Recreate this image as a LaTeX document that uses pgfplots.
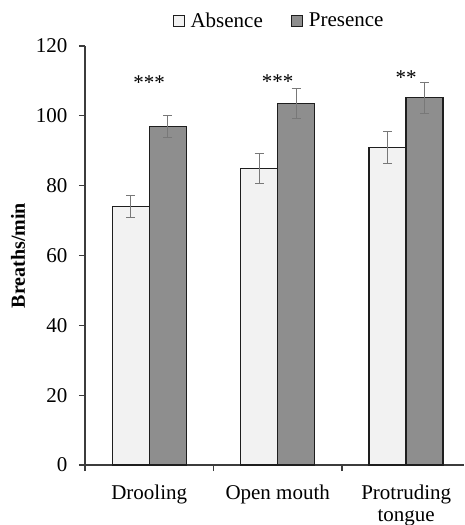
\documentclass[border=0pt]{standalone}
\usepackage{fontspec}
\setmainfont{Liberation Serif}
\usepackage{pgfplots}
\pgfplotsset{compat=1.18}
\definecolor{absfill}{RGB}{242,242,242}
\definecolor{prefill}{RGB}{142,142,142}
\definecolor{edgec}{RGB}{30,30,30}
\definecolor{axc}{RGB}{60,60,60}
\definecolor{errc}{RGB}{120,120,120}
\begin{document}
\begin{tikzpicture}
\useasboundingbox (-85pt,-60pt) rectangle (380pt,465pt);
\begin{axis}[
  scale only axis,
  width=379pt, height=419pt,
  xmin=-0.5, xmax=2.45,
  ymin=0, ymax=120,
  ytick={0,20,...,120},
  xtick={0,1,2},
  xticklabels={Drooling,Open mouth,{Protruding\\tongue}},
  minor xtick={-0.5,0.5,1.5},
  every major x tick/.style={draw=none},
  every minor x tick/.style={draw=axc, line width=1.3pt},
  minor tick length=6pt,
  major tick length=6pt,
  tick align=outside,
  ytick style={draw=axc, line width=1.3pt},
  axis lines*=left,
  axis line style={draw=axc, line width=1.5pt},
  /pgf/number format/assume math mode=true,
  tick label style={font=\fontsize{21}{22}\selectfont, text=black},
  yticklabel style={xshift=-8pt},
  xticklabel style={align=center, yshift=-10pt},
  ylabel={\textbf{Breaths/min}},
  ylabel style={font=\fontsize{20}{22}\selectfont, at={(axis description cs:-0.177,0.5)}, anchor=center, rotate=0},
  ybar, bar width=37pt,
  area legend,
  legend columns=2,
  legend style={at={(0.512,1.06)}, anchor=center, draw=none, fill=none,
    font=\fontsize{21}{22}\selectfont,
    /tikz/every even column/.append style={column sep=26pt},
    nodes={inner sep=2pt}},
  legend image code/.code={\draw[#1, line width=1pt] (0pt,-5.5pt) rectangle (11pt,5.5pt);},
]
\addplot[fill=absfill, draw=edgec, line width=1.4pt, bar shift=-18.5pt,
  error bars/.cd, y dir=both, y explicit,
  error bar style={draw=errc, line width=0.9pt},
  error mark options={rotate=90, draw=errc, mark size=4.5pt, line width=0.9pt}]
  coordinates {(0,74.1) +- (0,3.2) (1,85.0) +- (0,4.3) (2,90.9) +- (0,4.6)};
\addplot[fill=prefill, draw=edgec, line width=1.4pt, bar shift=18.5pt,
  error bars/.cd, y dir=both, y explicit,
  error bar style={draw=errc, line width=0.9pt},
  error mark options={rotate=90, draw=errc, mark size=4.5pt, line width=0.9pt}]
  coordinates {(0,96.9) +- (0,3.2) (1,103.6) +- (0,4.3) (2,105.2) +- (0,4.5)};
\addlegendentry{\hspace{4pt}Absence}
\addlegendentry{\hspace{4pt}Presence}
\node[anchor=base, font=\fontsize{21}{22}\selectfont, inner sep=0pt] at (axis cs:0,107.6) {***};
\node[anchor=base, font=\fontsize{21}{22}\selectfont, inner sep=0pt] at (axis cs:1,107.9) {***};
\node[anchor=base, font=\fontsize{21}{22}\selectfont, inner sep=0pt] at (axis cs:2,109.0) {**};
\end{axis}
\end{tikzpicture}
\end{document}
